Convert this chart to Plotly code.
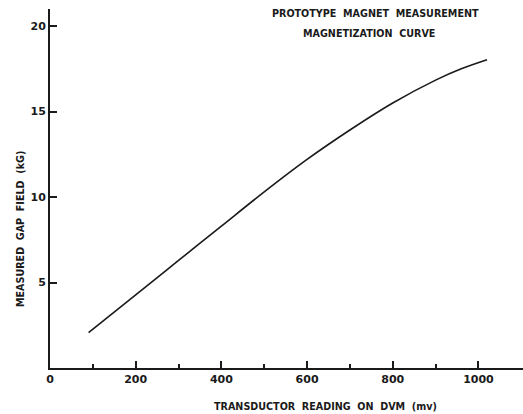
import plotly.graph_objects as go

# Magnetization curve: transducer reading (mV) vs measured gap field (kG)
reading_mv = [90, 200, 300, 400, 500, 600, 700, 800, 900, 960, 1020]
gap_field_kg = [2.07, 4.28, 6.29, 8.30, 10.30, 12.20, 13.92, 15.50, 16.84, 17.50, 18.03]

x_ticks = [0, 200, 400, 600, 800, 1000]
y_ticks = [5, 10, 15, 20]

FONT = "DejaVu Sans"
INK = "#1a1a1a"

fig = go.Figure()
fig.add_trace(go.Scatter(
    x=reading_mv, y=gap_field_kg, mode="lines",
    line=dict(color=INK, width=1.6, shape="spline", smoothing=1.0),
    hoverinfo="skip", showlegend=False,
))

fig.update_layout(
    width=523, height=414,
    margin=dict(l=50, r=0, t=9, b=46),
    paper_bgcolor="white", plot_bgcolor="white",
    font=dict(family=FONT, color=INK, size=11),
    xaxis=dict(
        range=[0, 1104], tickvals=x_ticks, ticktext=[str(v) for v in x_ticks],
        showgrid=False, zeroline=False, showline=True, linecolor=INK, linewidth=2,
        ticks="inside", ticklen=7, tickwidth=1.5, tickcolor=INK,
        minor=dict(tickvals=[100, 300, 500, 700, 900], ticks="inside", ticklen=4,
                   tickwidth=1.5, tickcolor=INK, showgrid=False),
        tickfont=dict(family=FONT, size=11, color=INK, weight="bold"),
    ),
    yaxis=dict(
        range=[0, 21], tickvals=y_ticks, ticktext=[str(v) for v in y_ticks],
        showgrid=False, zeroline=False, showline=True, linecolor=INK, linewidth=2,
        ticks="inside", ticklen=7, tickwidth=1.5, tickcolor=INK,
        tickfont=dict(family=FONT, size=11, color=INK, weight="bold"),
    ),
)

label_font = dict(family=FONT, size=9.6, color=INK, weight="bold")
fig.add_annotation(text="PROTOTYPE  MAGNET  MEASUREMENT", xref="paper", yref="paper",
                   x=(375 - 50) / 473, y=(414 - 46 - 13) / 359, showarrow=False,
                   font=label_font, xanchor="center", yanchor="middle")
fig.add_annotation(text="MAGNETIZATION  CURVE", xref="paper", yref="paper",
                   x=(369 - 50) / 473, y=(414 - 46 - 34) / 359, showarrow=False,
                   font=label_font, xanchor="center", yanchor="middle")
fig.add_annotation(text="TRANSDUCTOR  READING  ON  DVM  (mv)", xref="paper", yref="paper",
                   x=(325 - 50) / 473, y=(414 - 46 - 406) / 359, showarrow=False,
                   font=label_font, xanchor="center", yanchor="middle")
fig.add_annotation(text="MEASURED  GAP  FIELD  (kG)", xref="paper", yref="paper",
                   x=(20 - 50) / 473, y=(414 - 46 - 229) / 359, showarrow=False,
                   textangle=-90, font=label_font, xanchor="center", yanchor="middle")

fig.write_html("out.html")
